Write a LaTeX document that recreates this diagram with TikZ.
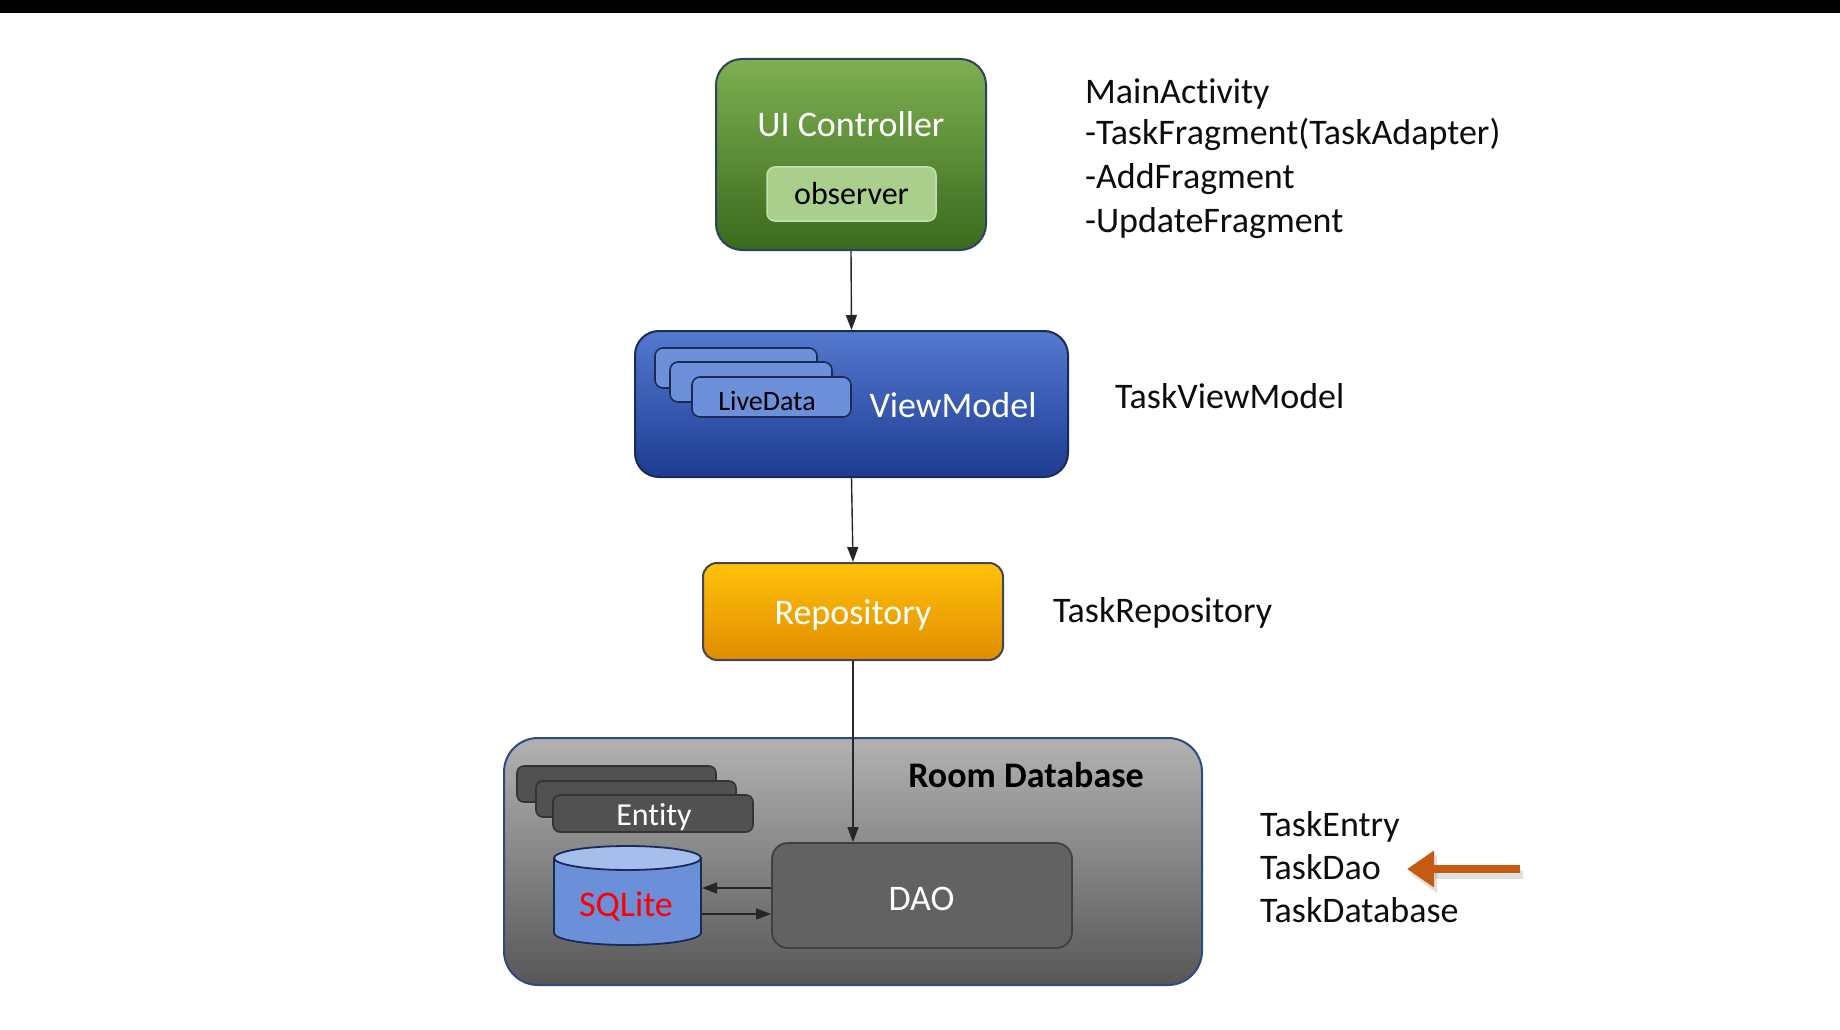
\documentclass[tikz,border=0pt]{standalone}
\usepackage{fontspec}
\setmainfont{Carlito}[Ligatures=NoCommon]
\usetikzlibrary{arrows.meta}
\definecolor{uitop}{HTML}{7FAF52}
\definecolor{uibot}{HTML}{3A6A1C}
\definecolor{uiline}{HTML}{2C4260}
\definecolor{obsfill}{HTML}{A9CF8C}
\definecolor{obsline}{HTML}{C4DFB0}
\definecolor{vmtop}{HTML}{5479CF}
\definecolor{vmbot}{HTML}{1D3C92}
\definecolor{vmline}{HTML}{1B2B58}
\definecolor{livefill}{HTML}{6C90D9}
\definecolor{reptop}{HTML}{FFC20A}
\definecolor{repbot}{HTML}{E08C00}
\definecolor{repline}{HTML}{3C4654}
\definecolor{roomtop}{HTML}{B2B2B2}
\definecolor{roombot}{HTML}{575757}
\definecolor{roomline}{HTML}{2E4A86}
\definecolor{entfill}{HTML}{515151}
\definecolor{daofill}{HTML}{626262}
\definecolor{sqlbody}{HTML}{6B8FD8}
\definecolor{sqltop}{HTML}{A5BEEC}
\definecolor{arrorange}{HTML}{C55A11}

\begin{document}
\begin{tikzpicture}[x=1pt,y=-1pt,line width=2pt,
  box/.style={draw,rounded corners=#1,inner sep=0pt},box/.default=12pt,
  big/.style={font=\fontsize{36}{40}\selectfont},
  mid/.style={font=\fontsize{32}{36}\selectfont},
  lbl/.style={font=\fontsize{36}{40}\selectfont,anchor=base west,inner sep=0pt,text=black!95},
  conn/.style={draw=black!85,line width=1.4pt,-{Triangle[length=15pt,width=11pt]}}]
\useasboundingbox (0,0) rectangle (1840,1030);
\fill[black] (0,0) rectangle (1840,13);
% UI controller
\node[box=26pt,top color=uitop,bottom color=uibot,draw=uiline,minimum width=270pt,minimum height=191pt] (uictl) at (851,154.5) {};
\node[big,text=white] (uilabel) at (851,124) {UI Controller};
\node[box=8pt,fill=obsfill,draw=obsline,line width=1.5pt,minimum width=169pt,minimum height=54pt,mid,text=black] (observer) at (851.5,194) {observer};
% view model
\node[box=24pt,top color=vmtop,bottom color=vmbot,draw=vmline,minimum width=433pt,minimum height=146pt] (vm) at (851.5,404) {};
\node[box=8pt,fill=livefill,draw=vmline,line width=1.6pt,minimum width=162pt,minimum height=40pt] (live3) at (736,368) {};
\node[box=8pt,fill=livefill,draw=vmline,line width=1.6pt,minimum width=162pt,minimum height=40pt] (live2) at (751,382) {};
\node[box=8pt,fill=livefill,draw=vmline,line width=1.6pt,minimum width=159pt,minimum height=40pt] (live) at (771.5,397) {};
\node[font=\fontsize{28}{30}\selectfont] (livelabel) at (767,401) {LiveData};
\node[big,text=white] (vmlabel) at (953,405) {ViewModel};
% repository
\node[box=14pt,top color=reptop,bottom color=repbot,draw=repline,minimum width=300pt,minimum height=97pt] (repo) at (853,611.5) {};
\node[big,text=white] (repolabel) at (853,615) {Repository};
% room database
\node[box=34pt,top color=roomtop,bottom color=roombot,draw=roomline,minimum width=698pt,minimum height=247pt] (room) at (853,861.5) {};
\node[font=\fontsize{36}{40}\selectfont\bfseries,anchor=base] (roomlabel) at (1026,787) {Room Database};
\node[box=7pt,fill=entfill,draw=black!80,line width=1.6pt,minimum width=199pt,minimum height=36pt] (entity3) at (616.5,784) {};
\node[box=7pt,fill=entfill,draw=black!80,line width=1.6pt,minimum width=200pt,minimum height=36pt] (entity2) at (636,799) {};
\node[box=7pt,fill=entfill,draw=black!80,line width=1.6pt,minimum width=200pt,minimum height=37pt] (entity) at (653,813.5) {};
\node[mid,text=white] (entlabel) at (654,817) {Entity};
\filldraw[fill=sqlbody,draw=vmline,line width=1.8pt] (554,858) -- (554,933) arc[start angle=180,end angle=0,x radius=73.5,y radius=12] -- (701,858) -- cycle;
\filldraw[fill=sqltop,draw=vmline,line width=1.8pt] (627.5,858) ellipse[x radius=73.5,y radius=12];
\node[minimum width=147pt,minimum height=99pt,inner sep=0pt] (sqlite) at (627.5,895.5) {};
\node[big,text=red] (sqllabel) at (626,906.5) {SQLite};
\node[box=16pt,fill=daofill,draw=black!75,line width=1.8pt,minimum width=300pt,minimum height=105pt] (dao) at (922,895.5) {};
\node[big,text=white] (daolabel) at (921.5,899) {DAO};
\draw[conn] (uictl.south) -- (vm.north);
\draw[conn] (vm.south) -- (repo.north);
\draw[conn] (repo.south) -- (repo.south |- dao.north);
\draw[conn] ([yshift=7.5pt]dao.west) -- ([yshift=7.5pt]dao.west -| sqlite.east);
\draw[conn] ([yshift=-18.5pt]dao.west -| sqlite.east) -- ([yshift=-18.5pt]dao.west);
% class names
\node[lbl] (mainact) at (1084,104) {MainActivity};
\node[lbl] (taskfrag) at (1084,145) {-TaskFragment(TaskAdapter)};
\node[lbl] (addfrag) at (1084,189) {-AddFragment};
\node[lbl] (updfrag) at (1084,233) {-UpdateFragment};
\node[lbl] (taskvm) at (1114,408) {TaskViewModel};
\node[lbl] (taskrepo) at (1052,622) {TaskRepository};
\node[lbl] (taskentry) at (1259,836) {TaskEntry};
\node[lbl] (taskdao) at (1259,879) {TaskDao};
\node[lbl] (taskdb) at (1259,922) {TaskDatabase};
\coordinate (tail) at (1520,869);\coordinate (tip) at (1407,869);
\draw[black,opacity=.12,line width=9pt,-{Triangle[length=27pt,width=36pt]}] ([shift={(3,5)}]tail) -- ([shift={(3,5)}]tip);
\draw[arrorange,line width=8pt,-{Triangle[length=27pt,width=35pt]}] (tail) -- (tip);
\end{tikzpicture}
\end{document}
